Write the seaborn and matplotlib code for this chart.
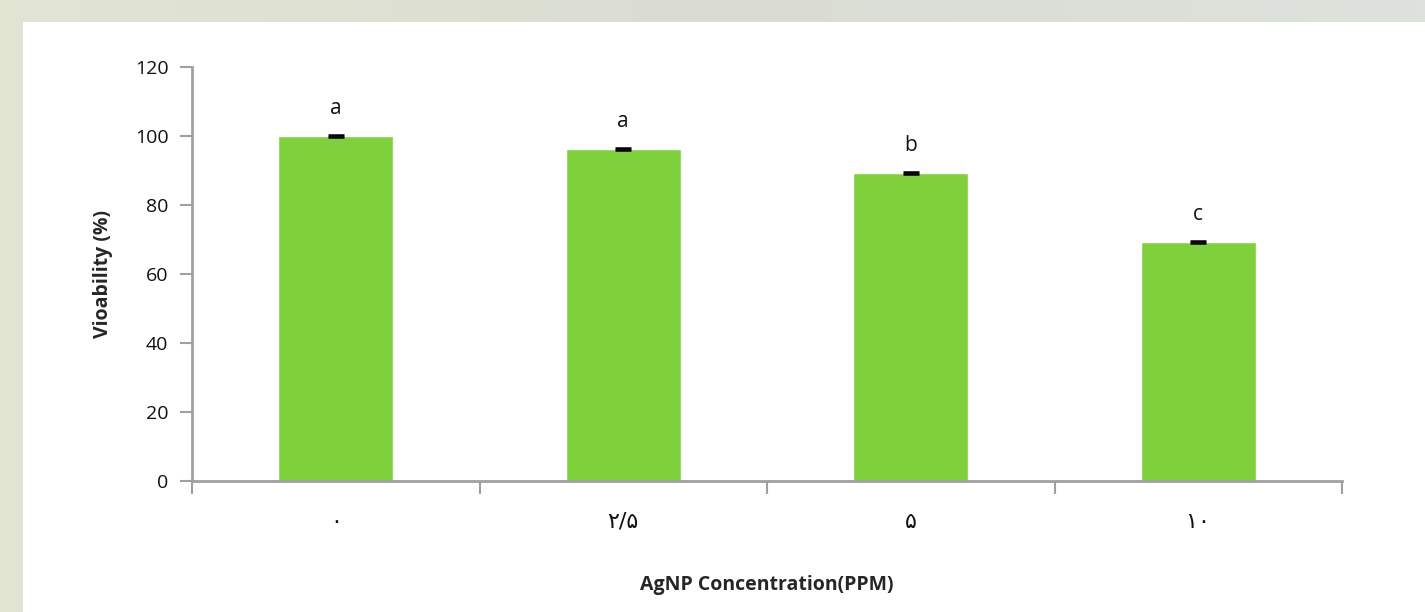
import numpy as np
import pandas as pd
import matplotlib
matplotlib.use("Agg")
import matplotlib.pyplot as plt
import seaborn as sns
from matplotlib.patches import Rectangle
from matplotlib.colors import LinearSegmentedColormap

# donnees
concentrations = ["۰", "۲/۵", "۵", "۱۰"]
viability = [100.0, 96.2, 89.3, 69.3]
errors = [0.3, 0.3, 0.3, 0.3]
letters = ["a", "a", "b", "c"]

df = pd.DataFrame({"conc": concentrations, "viab": viability})

sns.set_style("white")
plt.rcParams["font.family"] = ["Open Sans", "DejaVu Sans"]
plt.rcParams["text.color"] = "#111111"
plt.rcParams["xtick.labelcolor"] = "#111111"
plt.rcParams["ytick.labelcolor"] = "#111111"

fig = plt.figure(figsize=(14.25, 6.12), dpi=100)

# fond degrade + panneau blanc
bg = fig.add_axes([0, 0, 1, 1], zorder=-10)
grad = np.linspace(0, 1, 256)[None, :]
cmap = LinearSegmentedColormap.from_list("bg", ["#e2e5d2", "#dadcd3", "#dde2dc"])
bg.imshow(grad, aspect="auto", cmap=cmap, extent=[0, 1, 0, 1])
bg.set_xlim(0, 1)
bg.set_ylim(0, 1)
bg.axis("off")
fig.patches.append(Rectangle((23 / 1425, 0), 1, 1 - 22 / 612, transform=fig.transFigure,
                             facecolor="white", edgecolor="none", zorder=-5))

ax = fig.add_axes([192 / 1425, 1 - 481 / 612, (1342 - 192) / 1425, (481 - 67) / 612])
ax.patch.set_alpha(0)
sns.barplot(data=df, x="conc", y="viab", color="#7fd13b", width=0.4, saturation=1,
            errorbar=None, ax=ax)
ax.errorbar(range(len(viability)), viability, yerr=errors, fmt="none",
            ecolor="black", elinewidth=1, capsize=6, capthick=1.8)

for i, (v, l) in enumerate(zip(viability, letters)):
    ax.text(i, v + 5, l, ha="center", va="bottom", fontsize=15)

ax.set_ylim(0, 120)
ax.set_xlim(-0.5, 3.5)
ax.set_yticks(range(0, 121, 20))
ax.set_xticks(range(4))
ax.set_xticklabels(concentrations, family=["DejaVu Sans"])
ax.set_xticks(np.arange(-0.5, 4, 1), minor=True)
ax.tick_params(axis="x", which="major", length=0, pad=22, labelsize=16, bottom=True)
ax.tick_params(axis="x", which="minor", length=9, color="#a0a0a0", width=1.5,
               direction="out", bottom=True)
ax.tick_params(axis="y", length=9, color="#a0a0a0", width=1.5, labelsize=14, pad=8, left=True)

for s in ["top", "right"]:
    ax.spines[s].set_visible(False)
for s in ["left", "bottom"]:
    ax.spines[s].set_color("#a0a0a0")
    ax.spines[s].set_linewidth(2)

ax.set_ylabel("Vioability (%)", fontsize=14, fontweight="bold", labelpad=16)
ax.set_xlabel("AgNP Concentration(PPM)", fontsize=14, fontweight="bold", labelpad=31)

fig.savefig("out.png", dpi=100)
